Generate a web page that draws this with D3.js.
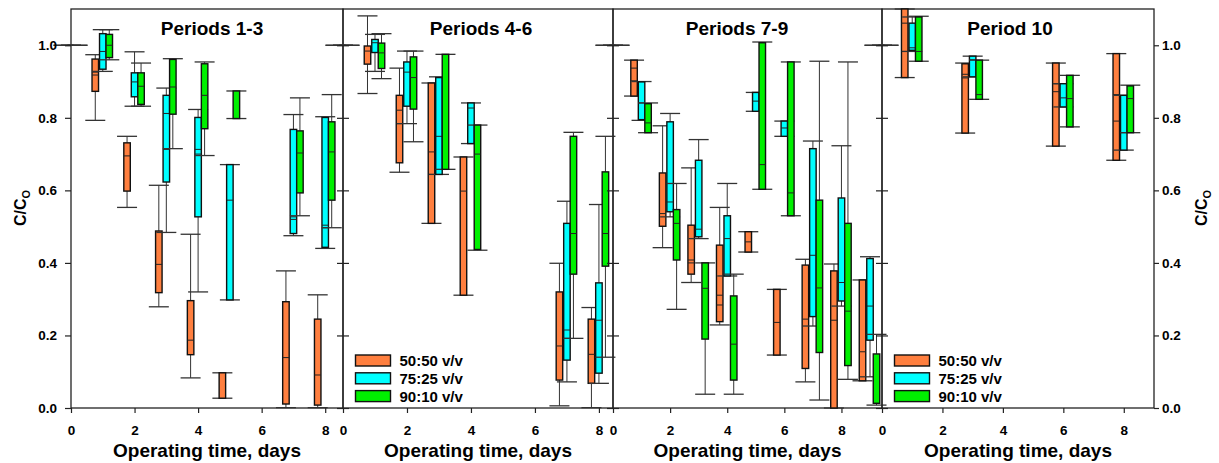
<!DOCTYPE html>
<html>
<head>
<meta charset="utf-8">
<script src="https://cdn.jsdelivr.net/npm/d3@7"></script>
<style>
  body { margin: 0; background: #fff; }
  text { font-family: "Liberation Sans", Arial, sans-serif; font-weight: bold; fill: #000; }
</style>
</head>
<body>
<svg id="chart" width="1219" height="463"></svg>
<script>
// box stats per point: [low whisker, q1, median, q3, high whisker, second line]
const xTicks = [0, 2, 4, 6, 8];
const yTicks = [0, 0.2, 0.4, 0.6, 0.8, 1.0];
const seriesNames = ["50:50 v/v", "75:25 v/v", "90:10 v/v"];
const panelTitles = ["Periods 1-3", "Periods 4-6", "Periods 7-9", "Period 10"];

const days13 = [0, 1, 2, 3, 4, 5, 7, 8];
const p13_50 = [[1,1,1,1,1], [0.793,0.873,0.926,0.962,0.974,0.918], [0.553,0.598,0.695,0.731,0.749], [0.279,0.318,0.396,0.488,0.614],
  [0.083,0.147,0.187,0.296,0.479], [0.027,0.027,null,0.097,0.097], [0.001,0.011,0.139,0.293,0.378], [0.001,0.008,0.091,0.245,0.312]];
const p13_75 = [[1,1,1,1,1], [0.928,0.934,0.983,1.032,1.043], [0.832,0.858,0.899,0.924,0.982], [0.484,0.623,0.812,0.862,0.882,0.713],
  [0.320,0.527,0.713,0.801,0.823,0.70], [0.298,0.298,0.573,0.671,0.671], [0.475,0.481,0.527,0.768,0.809,0.52], [0.44,0.443,0.504,0.801,0.803,0.497]];
const p13_90 = [[1,1,1,1,1], [0.96,0.966,1.0,1.03,1.043], [0.832,0.837,0.887,0.924,0.951], [0.715,0.81,0.885,0.961,0.963],
  [0.696,0.77,0.862,0.949,0.954], [0.798,0.798,null,0.874,0.874], [0.53,0.593,0.703,0.764,0.855], [0.497,0.573,0.706,0.789,0.864]];

const days46 = [0, 1, 2, 3, 4, 7, 8];
const p46_50 = [[1,1,1,1,1], [0.867,0.948,0.984,0.998,1.081], [0.65,0.676,0.821,0.862,0.937,0.784], [0.509,0.509,0.706,0.896,0.896,0.644],
  [0.311,0.311,0.598,0.692,0.692], [0.006,0.077,0.171,0.32,0.399], [0.001,0.068,0.148,0.245,0.277]];
const p46_75 = [[1,1,1,1,1], [0.928,0.98,1.007,1.016,1.03], [0.784,0.832,0.926,0.954,0.984], [0.644,0.644,0.749,0.911,0.913],
  [0.729,0.729,0.827,0.841,0.841], [0.072,0.132,0.215,0.509,0.570,0.192], [0.068,0.096,0.242,0.345,0.561]];
const p46_90 = [[1,1,1,1,1], [0.908,0.936,0.979,1.006,1.032], [0.734,0.824,0.911,0.968,0.984], [0.658,0.658,null,0.975,0.975],
  [0.435,0.437,0.70,0.78,0.78], [0.192,0.369,0.481,0.749,0.76], [0.14,0.391,0.481,0.651,0.749]];

const days79 = [0, 1, 2, 3, 4, 5, 6, 7, 8, 9];
const p79_50 = [[1,1,1,1,1], [0.86,0.86,0.902,0.959,0.959,0.937], [0.442,0.501,0.536,0.648,0.778], [0.346,0.369,0.408,0.504,0.662,0.40],
  [0.229,0.238,0.284,0.449,0.553,0.311], [0.43,0.43,0.458,0.486,0.486], [0.146,0.146,0.236,0.327,0.327], [0.072,0.109,0.245,0.394,0.41],
  [0,0,0.242,0.378,0.397], [0.075,0.075,0.155,0.353,0.353]];
const p79_75 = [[1,1,1,1,1], [0.793,0.795,0.841,0.899,0.90], [0.527,0.541,0.568,0.789,0.812], [0.467,0.472,0.493,0.683,0.74],
  [0.364,0.364,0.467,0.53,0.619], [0.818,0.818,0.846,0.87,0.87], [0.749,0.749,0.772,0.791,0.791], [0.226,0.252,0.421,0.715,0.736],
  [0.281,0.295,0.346,0.579,0.723], [0.086,0.187,0.281,0.412,0.417]];
const p79_90 = [[1,1,1,1,1], [0.759,0.759,0.786,0.839,0.841], [0.272,0.408,0.509,0.547,0.619], [0.038,0.19,0.33,0.40,0.40],
  [0.038,0.077,0.176,0.309,0.369], [0.603,0.603,0.671,1.007,1.009], [0.53,0.53,0.593,0.954,0.954], [0.022,0.153,0.331,0.573,0.956],
  [0.079,0.117,0.267,0.509,0.954], [0.008,0.013,null,0.149,0.203]];

const days10 = [0, 1, 3, 6, 8];
const p10_50 = [[1,1,1,1,1], [0.911,0.911,0.983,1.1,1.1,1.061], [0.758,0.758,0.91,0.949,0.951,0.92], [0.722,0.722,0.872,0.951,0.951,0.894],
  [0.683,0.683,0.791,0.977,0.977,0.864]];
const p10_75 = [[1,1,1,1,1], [0.983,0.986,0.993,1.061,1.078], [0.913,0.913,0.96,0.97,0.97], [0.83,0.83,0.855,0.894,0.894],
  [0.711,0.711,0.759,0.862,0.862]];
const p10_90 = [[1,1,1,1,1], [0.956,0.956,0.983,1.078,1.08], [0.851,0.851,0.864,0.959,0.959], [0.775,0.775,0.853,0.917,0.917],
  [0.759,0.759,0.853,0.888,0.89]];

const colors = ["#ff7f3f", "#00ffff", "#00f000"];
const offsets = [-7.5, 0, 6.5];
const boxW = 6.5, capW = 20;

const panels = [
  { title: panelTitles[0], days: days13, stats: [p13_50, p13_75, p13_90], x0: 71, x1: 343, xMax: 8.56, titleX: 212, legend: false },
  { title: panelTitles[1], days: days46, stats: [p46_50, p46_75, p46_90], x0: 343, x1: 613, xMax: 8.44, titleX: 481, legend: true },
  { title: panelTitles[2], days: days79, stats: [p79_50, p79_75, p79_90], x0: 613, x1: 882, xMax: 9.42, titleX: 737, legend: false },
  { title: panelTitles[3], days: days10, stats: [p10_50, p10_75, p10_90], x0: 882, x1: 1154, xMax: 9.0, titleX: 1010, legend: true }
];

const svg = d3.select("#chart");
const y = d3.scaleLinear().domain([0, 1.1]).range([408, 9]);

function styleAxis(g, size) {
  g.select(".domain").remove();
  g.selectAll(".tick line").attr("stroke", "#222").attr("stroke-width", 1.2);
  g.selectAll(".tick text").attr("font-size", size).attr("font-family", null);
}

panels.forEach(p => {
  const x = d3.scaleLinear().domain([0, p.xMax]).range([p.x0, p.x1]);
  const g = svg.append("g");

  g.append("rect")
    .attr("x", p.x0).attr("y", y(1.1))
    .attr("width", p.x1 - p.x0).attr("height", y(0) - y(1.1))
    .attr("fill", "none").attr("stroke", "#222").attr("stroke-width", 1.3);

  g.append("g")
    .attr("transform", `translate(0,${y(0)})`)
    .call(d3.axisBottom(x).tickValues(xTicks).tickSize(5).tickPadding(12).tickFormat(d3.format("d")))
    .call(a => styleAxis(a, 13.5));

  g.append("text")
    .attr("x", p.titleX).attr("y", 34.5)
    .attr("text-anchor", "middle").attr("font-size", 19)
    .text(p.title);

  g.append("text")
    .attr("x", (p.x0 + p.x1) / 2).attr("y", 457)
    .attr("text-anchor", "middle").attr("font-size", 19)
    .text("Operating time, days");

  p.stats.forEach((st, si) => {
    const rows = st.map((s, i) => ({ day: p.days[i], lo: s[0], q1: s[1], med: s[2], q3: s[3], hi: s[4], mean: s[5] }));
    const cx = d => x(d.day) + offsets[si];
    const gs = g.append("g");

    gs.selectAll(".whisker").data(rows).join("path")
      .attr("class", "whisker")
      .attr("d", d => `M${cx(d)},${y(d.hi)}V${y(d.q3)}M${cx(d)},${y(d.q1)}V${y(d.lo)}`)
      .attr("stroke", "#333").attr("stroke-width", 1).attr("fill", "none");

    gs.selectAll(".cap").data(rows.flatMap(d => [{ c: cx(d), v: d.hi }, { c: cx(d), v: d.lo }])).join("line")
      .attr("class", "cap")
      .attr("x1", d => d.c - capW / 2).attr("x2", d => d.c + capW / 2)
      .attr("y1", d => y(d.v)).attr("y2", d => y(d.v))
      .attr("stroke", "#333").attr("stroke-width", 1.3);

    gs.selectAll(".box").data(rows.filter(d => d.q3 > d.q1)).join("rect")
      .attr("class", "box")
      .attr("x", d => cx(d) - boxW / 2).attr("width", boxW)
      .attr("y", d => y(d.q3)).attr("height", d => y(d.q1) - y(d.q3))
      .attr("fill", colors[si]).attr("stroke", "#111").attr("stroke-width", 1.4);

    gs.selectAll(".mid").data(rows.filter(d => d.q3 > d.q1).flatMap(d =>
        [d.med, d.mean].filter(v => v != null).map(v => ({ c: cx(d), v }))))
      .join("line")
      .attr("class", "mid")
      .attr("x1", d => d.c - boxW / 2).attr("x2", d => d.c + boxW / 2)
      .attr("y1", d => y(d.v)).attr("y2", d => y(d.v))
      .attr("stroke", "#222").attr("stroke-width", 1);
  });

  if (p.legend) {
    const lg = g.append("g").attr("transform", `translate(${p.x0 + 12.5},355)`);
    seriesNames.forEach((name, i) => {
      lg.append("rect")
        .attr("x", 0).attr("y", i * 17.8)
        .attr("width", 35).attr("height", 11)
        .attr("fill", colors[i]).attr("stroke", "#111").attr("stroke-width", 1.4);
      lg.append("text")
        .attr("x", 44).attr("y", i * 17.8 + 11)
        .attr("font-size", 15)
        .text(name);
    });
  }
});

// y axes: outer labelled, inner borders with ticks both sides
svg.append("g").attr("transform", "translate(71,0)")
  .call(d3.axisLeft(y).tickValues(yTicks).tickSize(6).tickPadding(8).tickFormat(d3.format(".1f")))
  .call(a => styleAxis(a, 13.5));

svg.append("g").attr("transform", "translate(1154,0)")
  .call(d3.axisRight(y).tickValues(yTicks).tickSize(5).tickPadding(3).tickFormat(d3.format(".1f")))
  .call(a => styleAxis(a, 13.5));

[343, 613, 882].forEach(bx => {
  svg.append("g").attr("transform", `translate(${bx},0)`)
    .call(d3.axisLeft(y).tickValues(yTicks).tickSize(6).tickFormat(""))
    .call(a => styleAxis(a, 0));
  svg.append("g").attr("transform", `translate(${bx},0)`)
    .call(d3.axisRight(y).tickValues(yTicks).tickSize(6).tickFormat(""))
    .call(a => styleAxis(a, 0));
});

[[25.5, 208], [1207, 208]].forEach(([lx, ly]) => {
  const t = svg.append("text")
    .attr("transform", `translate(${lx},${ly}) rotate(-90)`)
    .attr("text-anchor", "middle").attr("font-size", 16);
  t.append("tspan").text("C/C");
  t.append("tspan").attr("dy", 4).attr("font-size", 11).text("O");
});
</script>
</body>
</html>
